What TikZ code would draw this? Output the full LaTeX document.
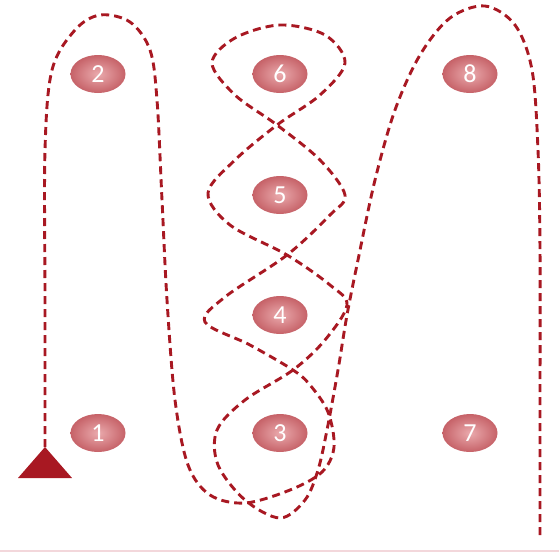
\documentclass[tikz,border=0pt]{standalone}
\usepackage{fontspec}
\setmainfont{Carlito}
\usetikzlibrary{shapes.geometric}
\definecolor{routered}{RGB}{168,24,34}
\definecolor{spotin}{RGB}{234,170,173}
\definecolor{spotout}{RGB}{198,98,104}
\definecolor{floorline}{RGB}{243,215,219}

\begin{document}
\begin{tikzpicture}[x=1pt, y=-1pt,
  spot/.style={ellipse, minimum width=55pt, minimum height=38pt, inner sep=0pt,
    inner color=spotin, outer color=spotout, text=white,
    font=\fontsize{26}{26}\selectfont},
  route/.style={draw=routered, line width=2.9pt, dash pattern=on 8pt off 5pt}]
\useasboundingbox (0,0) rectangle (559,554);
\draw[floorline, line width=2pt] (0,551) -- (559,551);
\node[spot] (p1) at (98,433) {1};
\node[spot] (p2) at (98,74) {2};
\node[spot] (p3) at (280,433) {3};
\node[spot] (p4) at (280,315) {4};
\node[spot] (p5) at (280,195) {5};
\node[spot] (p6) at (280,74) {6};
\node[spot] (p7) at (470,433) {7};
\node[spot] (p8) at (470,74) {8};
\coordinate (start) at (45,447);
\coordinate (finish) at (540,535);
\fill[routered] (start) -- ++(-27,31) -- ++(54,0) -- cycle;
%
\draw[route] plot[smooth, tension=0.55] coordinates {(start) (45,300) (45,150)
  (52,70) (75,30) (100,15) (130,22) (150,50) (157,100) (162,200) (167,300)
  (175,400) (188,465) (210,495) (245,503) (290,490) (322,472) (334,447)
  (328,412) (310,385) (293,370) (250,345) (205,322) (225,297) (287,255)
  (330,215) (345,195) (320,160) (277,125) (235,95) (212,63) (235,38)
  (280,25) (325,35) (345,63) (320,95) (277,125) (235,160) (208,193)
  (230,225) (287,255) (330,285) (347,305) (325,340) (293,370) (245,400)
  (217,430) (218,465) (245,500) (280,518) (305,500) (318,470) (327,430)
  (338,370) (347,315) (358,260) (375,180) (395,110) (420,55) (450,18)
  (485,6) (515,25) (532,70) (538,150) (540,250) (540,400) (finish)};
\end{tikzpicture}
\end{document}
